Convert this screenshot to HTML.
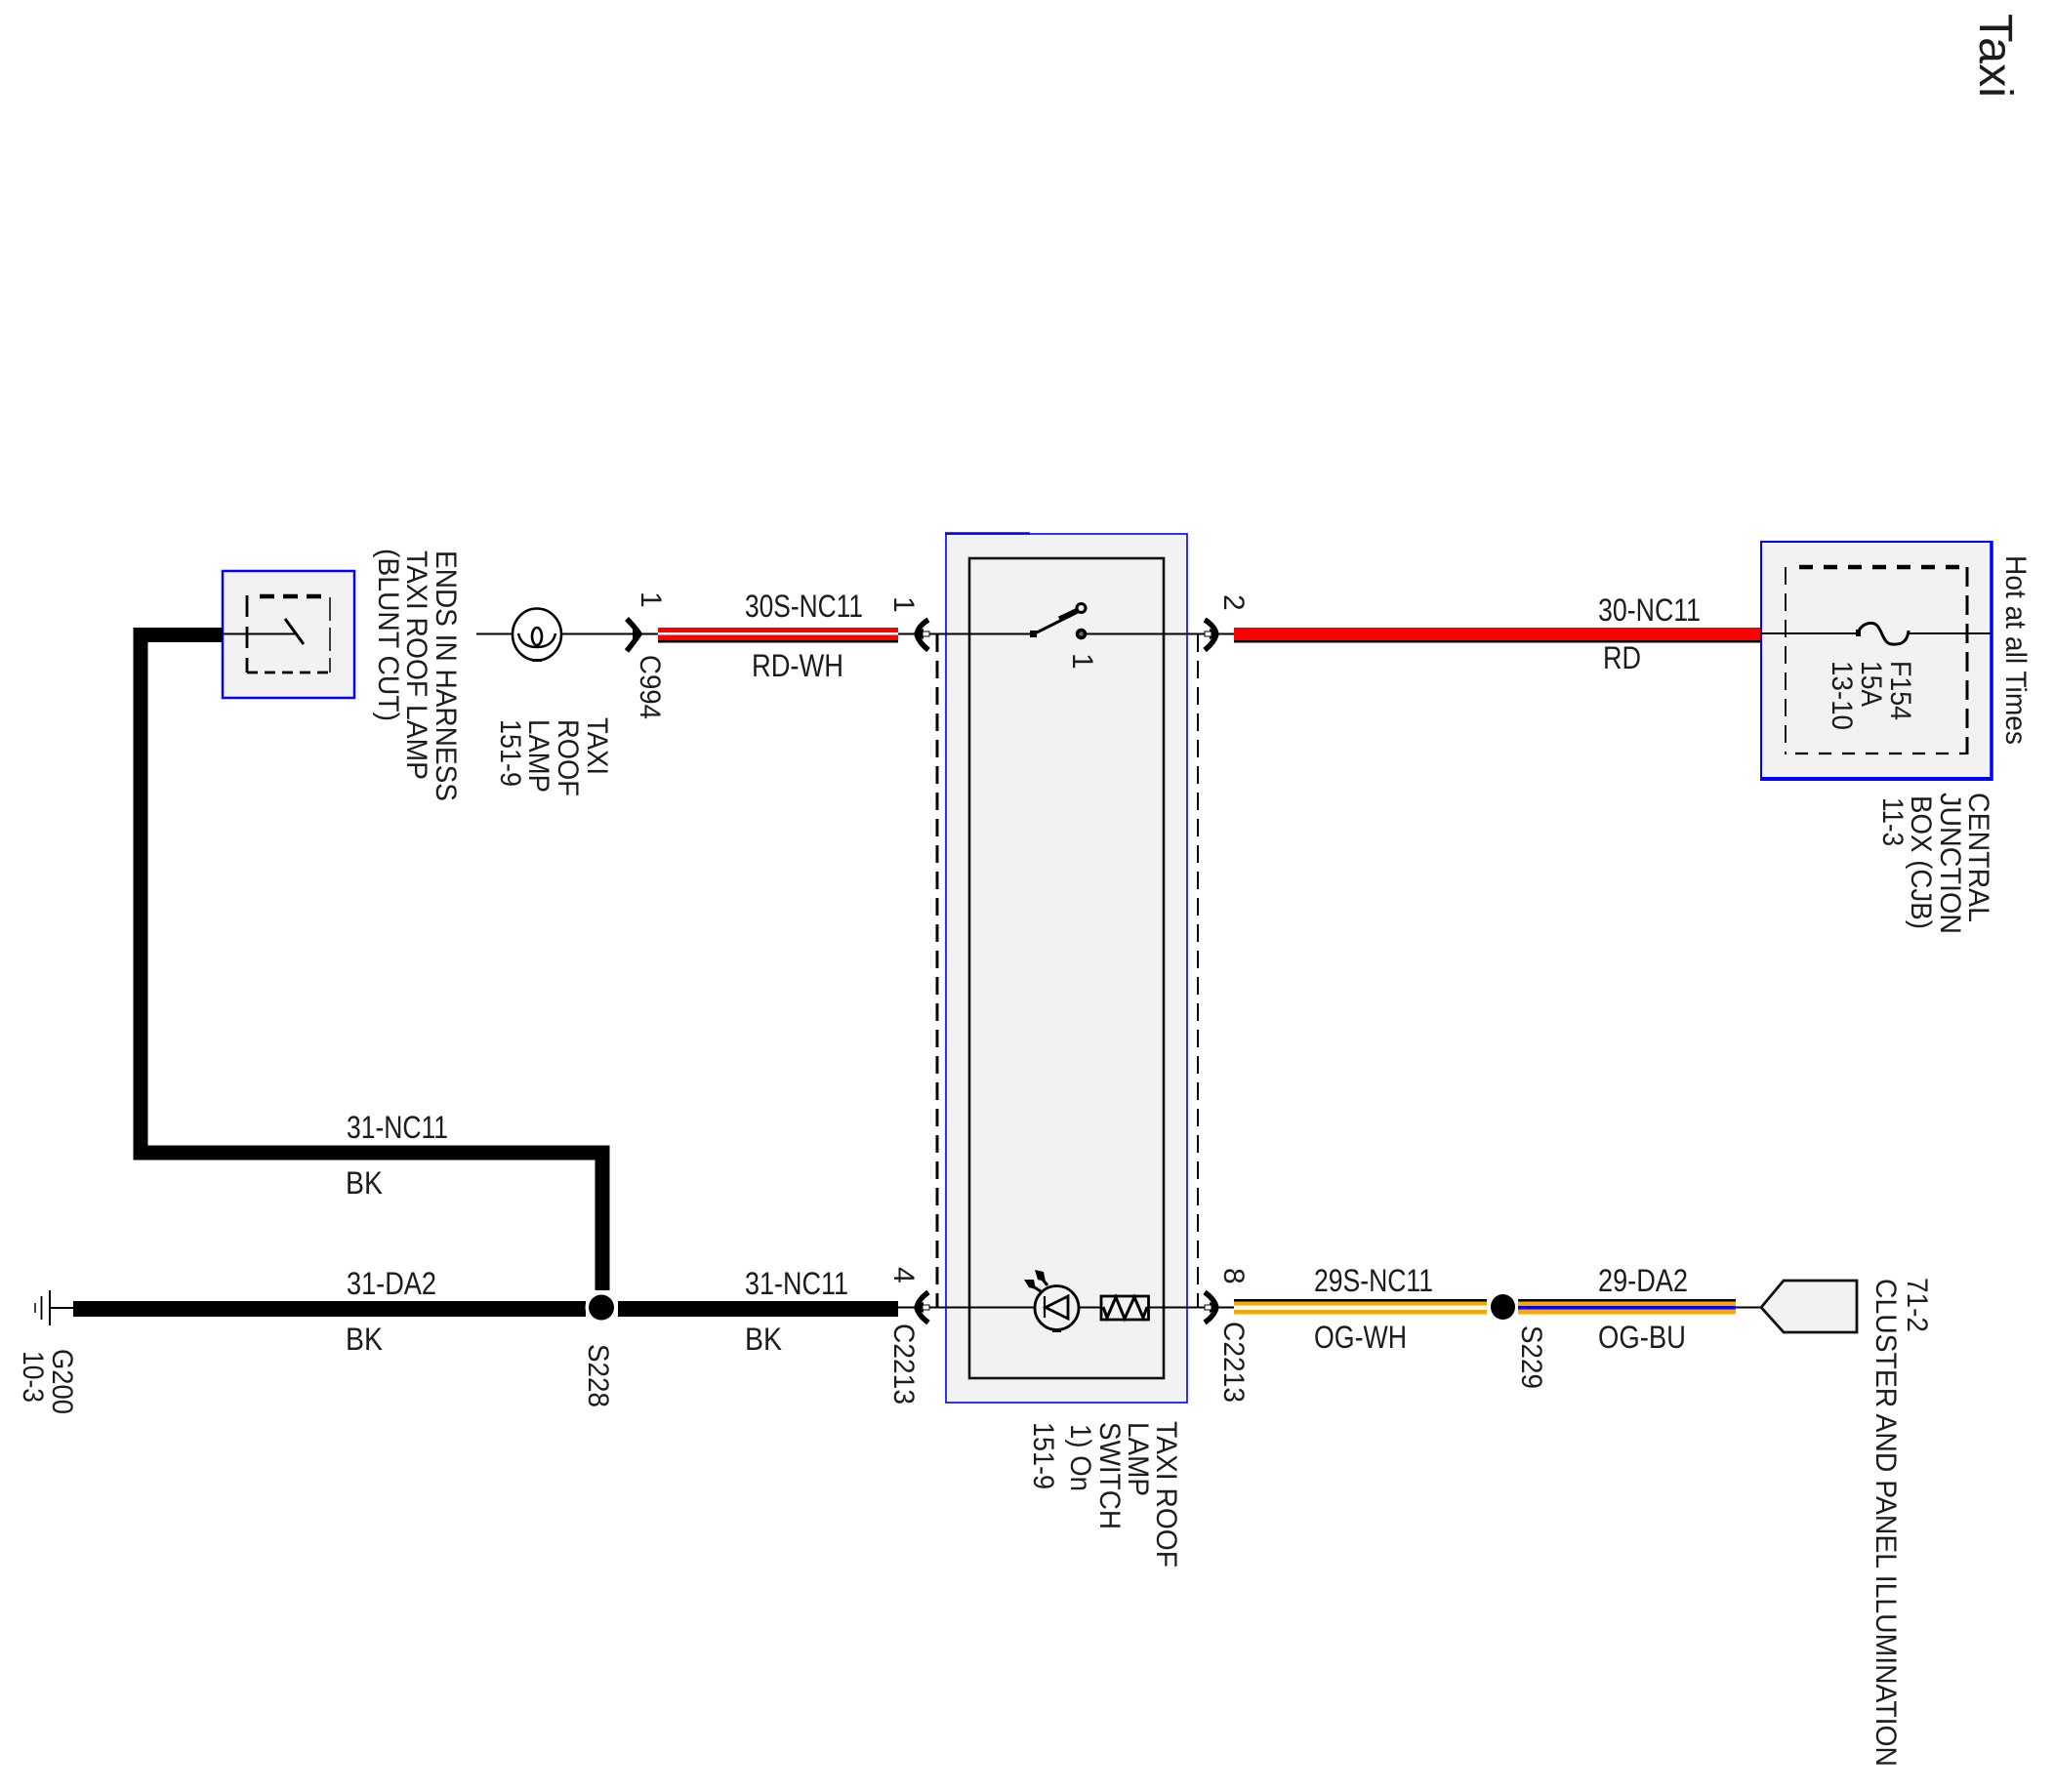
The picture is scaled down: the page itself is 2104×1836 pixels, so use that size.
<!DOCTYPE html>
<html>
<head>
<meta charset="utf-8">
<title>Taxi</title>
<style>
html,body{margin:0;padding:0;background:#fff}
svg{display:block}
text{font-family:"Liberation Sans",Arial,sans-serif;font-size:30px;fill:#1c1c1c;filter:blur(.35px)}
text.h{font-size:32px}
</style>
</head>
<body>
<svg width="2104" height="1836" viewBox="0 0 2104 1836" xmlns="http://www.w3.org/2000/svg">
<rect width="2104" height="1836" fill="#fff"/>

<!-- Taxi title -->
<text transform="translate(2028,14) rotate(90)" textLength="86" lengthAdjust="spacingAndGlyphs" style="font-size:48px">Taxi</text>

<!-- Boxes -->
<rect x="228" y="585" width="135" height="130" fill="#f2f2f2" stroke="#0000ff" stroke-width="2.5"/>
<rect x="969" y="547" width="247" height="890" fill="#f2f2f2" stroke="#0000ff" stroke-width="1.6"/>
<line x1="968" y1="546.5" x2="1055" y2="546.5" stroke="#0000ff" stroke-width="2.5"/>
<rect x="993" y="572" width="199" height="840" fill="none" stroke="#111" stroke-width="2.6"/>
<rect x="1804" y="555" width="236" height="243" fill="#f2f2f2" stroke="#0000ff" stroke-width="2"/>
<line x1="2040" y1="554" x2="2040" y2="800" stroke="#0000ff" stroke-width="3.5"/>
<line x1="1803" y1="798" x2="2041" y2="798" stroke="#0000ff" stroke-width="4"/>

<!-- Dashed inner small box -->
<g fill="none" stroke="#000">
<line x1="266" y1="611" x2="338" y2="611" stroke-width="4.5" stroke-dasharray="15 9"/>
<line x1="253" y1="610" x2="253" y2="689" stroke-width="2.8" stroke-dasharray="22 10"/>
<line x1="338" y1="612" x2="338" y2="689" stroke-width="1.5" stroke-dasharray="24 7"/>
<line x1="253" y1="689" x2="338" y2="689" stroke-width="2.8" stroke-dasharray="11 7"/>
<!-- Dashed fuse box -->
<line x1="1843" y1="581" x2="2015" y2="581" stroke-width="4.5" stroke-dasharray="14 11"/>
<line x1="1829" y1="581" x2="1829" y2="773" stroke-width="1.8" stroke-dasharray="18 9"/>
<line x1="2015" y1="581" x2="2015" y2="773" stroke-width="3" stroke-dasharray="20 9"/>
<line x1="1839" y1="772" x2="2015" y2="772" stroke-width="2.2" stroke-dasharray="13 11"/>
<!-- Dashed verticals -->
<line x1="960" y1="650" x2="960" y2="1339" stroke-width="3" stroke-dasharray="18 9"/>
<line x1="1227" y1="650" x2="1227" y2="1339" stroke-width="2" stroke-dasharray="18 9"/>
</g>

<!-- Black heavy wires -->
<path d="M228 650.500 H144 V1181 H617 V1322" fill="none" stroke="#000" stroke-width="15"/>
<rect x="75" y="1333" width="525" height="16" fill="#000"/>
<rect x="633" y="1333" width="287" height="16" fill="#000"/>

<!-- S228 splice -->
<circle cx="616" cy="1339.500" r="16.500" fill="#fff"/>
<circle cx="616" cy="1339.500" r="13" fill="#000"/>

<!-- Red-white wire -->
<rect x="674" y="643" width="246" height="15" fill="#ff0000"/>
<rect x="674" y="648" width="246" height="2.500" fill="#fff"/>
<rect x="674" y="656" width="246" height="2.500" fill="#000"/>
<!-- Red wire -->
<rect x="1264" y="643" width="539" height="13" fill="#ff0000"/>
<rect x="1264" y="656" width="539" height="2.500" fill="#000"/>

<!-- Orange-white wire -->
<rect x="1264" y="1332" width="259" height="14.500" fill="#ffa500"/>
<rect x="1264" y="1331" width="259" height="2.500" fill="#000"/>
<rect x="1264" y="1337.500" width="259" height="4.500" fill="#fff"/>
<!-- Orange-blue wire -->
<rect x="1555" y="1332" width="223" height="14.500" fill="#ffa500"/>
<rect x="1555" y="1331" width="223" height="2.500" fill="#000"/>
<rect x="1555" y="1338" width="223" height="3.500" fill="#0000ff"/>
<!-- S229 splice -->
<ellipse cx="1539.500" cy="1339" rx="12.500" ry="13" fill="#000"/>

<!-- Thin wires -->
<g stroke="#000" stroke-width="2" fill="none">
<line x1="228" y1="649.500" x2="304" y2="649.500"/>
<line x1="488" y1="649.500" x2="525" y2="649.500"/>
<line x1="575" y1="649.500" x2="674" y2="649.500"/>
<line x1="920" y1="649.500" x2="1058" y2="649.500"/>
<line x1="1107" y1="649.500" x2="1264" y2="649.500"/>
<line x1="1803" y1="649" x2="1903" y2="649"/>
<line x1="1955" y1="649" x2="2040" y2="649"/>
<line x1="920" y1="1339.500" x2="1060" y2="1339.500"/>
<line x1="1105" y1="1339.500" x2="1127" y2="1339.500"/>
<line x1="1177" y1="1339.500" x2="1264" y2="1339.500"/>
<line x1="1778" y1="1339.500" x2="1806" y2="1339.500"/>
<line x1="51" y1="1340" x2="75" y2="1340"/>
</g>

<!-- Blunt-cut switch symbol -->
<line x1="292" y1="634" x2="311" y2="660" stroke="#000" stroke-width="3"/>

<!-- Lamp symbol -->
<g fill="none" stroke="#000">
<ellipse cx="550" cy="650" rx="25" ry="26.500" stroke-width="2.600"/>
<path d="M531 649 Q534 663 550 663 Q566 663 569 649" stroke-width="2.400"/>
<ellipse cx="550" cy="652" rx="5" ry="9" stroke-width="2.600"/>
</g>
<rect x="545" y="675" width="10" height="3" fill="#000"/>

<!-- Connector symbols -->
<g fill="none" stroke="#000" stroke-width="5.500">
<path d="M642 634 Q650 642 655 649.500 Q650 657 642 667"/>
<path d="M951 635 Q941 641 939 649.500 Q941 658 951 666"/>
<path d="M1234 635 Q1244 641 1246 649.500 Q1244 658 1234 666"/>
<path d="M951 1324 Q941 1331 939 1339.500 Q941 1348 951 1355"/>
<path d="M1234 1324 Q1244 1331 1246 1339.500 Q1244 1348 1234 1355"/>
</g>
<g fill="#000">
<path d="M648 644 L660 649.500 L648 655Z"/>
<path d="M946 644 L935 649.500 L946 655Z"/>
<path d="M1239 644 L1251 649.500 L1239 655Z"/>
<path d="M946 1334 L935 1339.500 L946 1345Z"/>
<path d="M1239 1334 L1251 1339.500 L1239 1345Z"/>
</g>
<g fill="#fff" stroke="#000" stroke-width="1">
<rect x="945" y="647" width="7" height="5"/>
<rect x="1234" y="647" width="7" height="5"/>
<rect x="945" y="1337" width="7" height="5"/>
<rect x="1234" y="1337" width="7" height="5"/>
</g>

<!-- SPST switch -->
<path d="M1058 650 L1104 627" stroke="#000" stroke-width="3" fill="none"/>
<path d="M1085 634 L1104 625" stroke="#000" stroke-width="5" fill="none"/>
<rect x="1055" y="646" width="7" height="7" fill="#000"/>
<circle cx="1107.500" cy="623" r="4.500" fill="#f2f2f2" stroke="#000" stroke-width="3"/>
<circle cx="1107.500" cy="649.500" r="4" fill="#666" stroke="#000" stroke-width="3.500"/>

<!-- LED symbol -->
<g fill="none" stroke="#000">
<circle cx="1082.500" cy="1340" r="22.500" stroke-width="2.800"/>
<line x1="1070" y1="1328" x2="1070" y2="1350" stroke-width="2.200"/>
<path d="M1071 1339.500 L1094 1328 V1351 Z" stroke-width="2.800"/>
<line x1="1066" y1="1323" x2="1055" y2="1316" stroke-width="3"/>
<line x1="1073" y1="1317" x2="1064" y2="1306" stroke-width="3"/>
</g>
<path d="M1049 1311 L1059 1311 L1061 1321 L1054 1319Z" fill="#000"/>
<path d="M1060 1301 L1069 1303 L1071 1313 L1063 1311Z" fill="#000"/>
<rect x="1078" y="1362" width="9" height="3" fill="#000"/>

<!-- Resistor -->
<rect x="1128" y="1328" width="48.500" height="24" fill="#f2f2f2" stroke="#000" stroke-width="2.800"/>
<path d="M1130 1339 L1134 1350 L1143 1329 L1152 1351 L1162 1329 L1171 1350 L1175 1339" fill="none" stroke="#000" stroke-width="3"/>

<!-- Fuse -->
<path d="M1903 650 C1905 640 1914 637 1920 639 C1928 642 1928 660 1938 660 C1948 661 1954 657 1955 646" fill="none" stroke="#000" stroke-width="3"/>
<rect x="1901" y="645" width="5" height="7" fill="#000"/>

<!-- Ground -->
<g stroke="#000">
<line x1="51" y1="1322" x2="51" y2="1358" stroke-width="2"/>
<line x1="42.500" y1="1328" x2="42.500" y2="1352" stroke-width="1.800"/>
<line x1="36" y1="1335" x2="36" y2="1345" stroke-width="1.500"/>
</g>

<!-- Pentagon connector -->
<path d="M1804 1339.500 L1827 1312 H1902 V1365 H1827 Z" fill="#f2f2f2" stroke="#111" stroke-width="2.800"/>

<!-- Horizontal labels -->
<text class="h" x="763" y="632" textLength="121" lengthAdjust="spacingAndGlyphs">30S-NC11</text>
<text class="h" x="770" y="693" textLength="94" lengthAdjust="spacingAndGlyphs">RD-WH</text>
<text class="h" x="1637" y="636" textLength="105" lengthAdjust="spacingAndGlyphs">30-NC11</text>
<text class="h" x="1642" y="685" textLength="39" lengthAdjust="spacingAndGlyphs">RD</text>
<text class="h" x="355" y="1166" textLength="104" lengthAdjust="spacingAndGlyphs">31-NC11</text>
<text class="h" x="354" y="1223" textLength="38" lengthAdjust="spacingAndGlyphs">BK</text>
<text class="h" x="355" y="1326" textLength="92" lengthAdjust="spacingAndGlyphs">31-DA2</text>
<text class="h" x="354" y="1383" textLength="38" lengthAdjust="spacingAndGlyphs">BK</text>
<text class="h" x="763" y="1326" textLength="106" lengthAdjust="spacingAndGlyphs">31-NC11</text>
<text class="h" x="763" y="1383" textLength="38" lengthAdjust="spacingAndGlyphs">BK</text>
<text class="h" x="1346" y="1323" textLength="122" lengthAdjust="spacingAndGlyphs">29S-NC11</text>
<text class="h" x="1346" y="1381" textLength="95" lengthAdjust="spacingAndGlyphs">OG-WH</text>
<text class="h" x="1637" y="1323" textLength="92" lengthAdjust="spacingAndGlyphs">29-DA2</text>
<text class="h" x="1637" y="1381" textLength="90" lengthAdjust="spacingAndGlyphs">OG-BU</text>

<!-- Rotated labels -->
<text transform="translate(447,564) rotate(90)" textLength="257" lengthAdjust="spacingAndGlyphs">ENDS IN HARNESS</text>
<text transform="translate(417,564) rotate(90)" textLength="235" lengthAdjust="spacingAndGlyphs">TAXI ROOF LAMP</text>
<text transform="translate(388,562) rotate(90)" textLength="177" lengthAdjust="spacingAndGlyphs">(BLUNT CUT)</text>
<text transform="translate(602,735) rotate(90)" textLength="59" lengthAdjust="spacingAndGlyphs">TAXI</text>
<text transform="translate(572,737) rotate(90)" textLength="79" lengthAdjust="spacingAndGlyphs">ROOF</text>
<text transform="translate(542,737) rotate(90)" textLength="75" lengthAdjust="spacingAndGlyphs">LAMP</text>
<text transform="translate(513,737) rotate(90)" textLength="69" lengthAdjust="spacingAndGlyphs">151-9</text>
<text transform="translate(656,671) rotate(90)" textLength="66" lengthAdjust="spacingAndGlyphs">C994</text>
<text transform="translate(657,606) rotate(90)">1</text>
<text transform="translate(916,611) rotate(90)">1</text>
<text transform="translate(1099,669) rotate(90)">1</text>
<text transform="translate(1254,609) rotate(90)">2</text>
<text transform="translate(916,1298) rotate(90)">4</text>
<text transform="translate(1254,1299) rotate(90)">8</text>
<text transform="translate(916,1356) rotate(90)" textLength="83" lengthAdjust="spacingAndGlyphs">C2213</text>
<text transform="translate(1254,1354) rotate(90)" textLength="83" lengthAdjust="spacingAndGlyphs">C2213</text>
<text transform="translate(603,1377) rotate(90)" textLength="65" lengthAdjust="spacingAndGlyphs">S228</text>
<text transform="translate(1559,1358) rotate(90)" textLength="65" lengthAdjust="spacingAndGlyphs">S229</text>
<text transform="translate(54,1382) rotate(90)" textLength="67" lengthAdjust="spacingAndGlyphs">G200</text>
<text transform="translate(24,1384) rotate(90)" textLength="53" lengthAdjust="spacingAndGlyphs">10-3</text>
<text transform="translate(1185,1456) rotate(90)" textLength="150" lengthAdjust="spacingAndGlyphs">TAXI ROOF</text>
<text transform="translate(1156,1457) rotate(90)" textLength="76" lengthAdjust="spacingAndGlyphs">LAMP</text>
<text transform="translate(1127,1457) rotate(90)" textLength="110" lengthAdjust="spacingAndGlyphs">SWITCH</text>
<text transform="translate(1097,1459) rotate(90)" textLength="69" lengthAdjust="spacingAndGlyphs">1) On</text>
<text transform="translate(1059,1457) rotate(90)" textLength="69" lengthAdjust="spacingAndGlyphs">151-9</text>
<text transform="translate(1937,677) rotate(90)" textLength="61" lengthAdjust="spacingAndGlyphs">F154</text>
<text transform="translate(1907,677) rotate(90)" textLength="47" lengthAdjust="spacingAndGlyphs">15A</text>
<text transform="translate(1877,677) rotate(90)" textLength="71" lengthAdjust="spacingAndGlyphs">13-10</text>
<text transform="translate(2055,569) rotate(90)" textLength="194" lengthAdjust="spacingAndGlyphs">Hot at all Times</text>
<text transform="translate(2017,812) rotate(90)" textLength="133" lengthAdjust="spacingAndGlyphs">CENTRAL</text>
<text transform="translate(1988,812) rotate(90)" textLength="145" lengthAdjust="spacingAndGlyphs">JUNCTION</text>
<text transform="translate(1958,815) rotate(90)" textLength="137" lengthAdjust="spacingAndGlyphs">BOX (CJB)</text>
<text transform="translate(1929,817) rotate(90)" textLength="50" lengthAdjust="spacingAndGlyphs">11-3</text>
<text transform="translate(1954,1309) rotate(90)" textLength="56" lengthAdjust="spacingAndGlyphs">71-2</text>
<text transform="translate(1922,1310) rotate(90)" textLength="500" lengthAdjust="spacingAndGlyphs">CLUSTER AND PANEL ILLUMINATION</text>
</svg>
</body>
</html>
